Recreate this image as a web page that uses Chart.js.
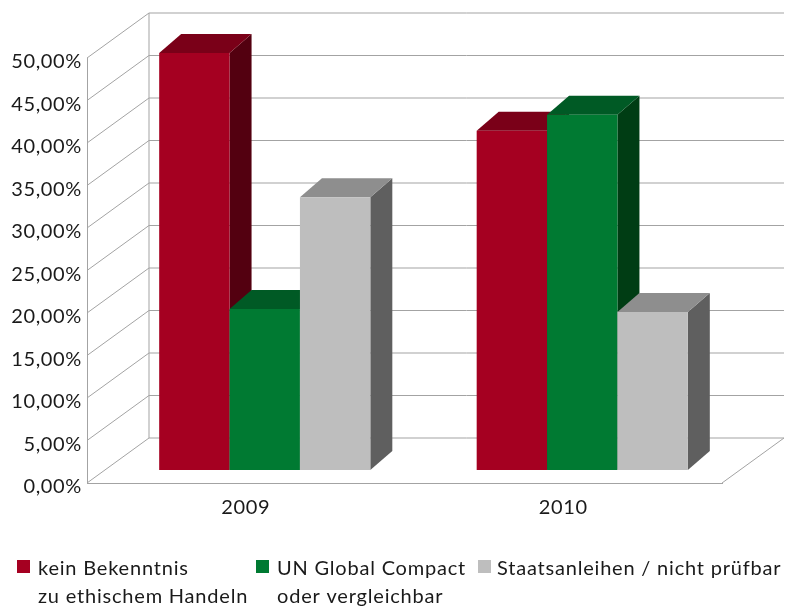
<!DOCTYPE html>
<html lang="de">

<head>
  <meta charset="UTF-8">
  <title>Bekenntnis 2009 / 2010</title>
  <script src="https://cdnjs.cloudflare.com/ajax/libs/Chart.js/4.4.1/chart.umd.min.js"></script>
  <style>
    html, body { margin: 0; padding: 0; background: #fff; }
    .plot-container { width: 791px; height: 608px; position: relative; }
  </style>
</head>

<body>
  <div class="plot-container">
    <canvas id="plot"></canvas>
  </div>

  <script>
    const years = ['2009', '2010'];
    const keinBekenntnis = [49.06, 39.9];
    const unGlobalCompact = [18.95, 41.8];
    const staatsanleihen = [32.1, 18.6];
    const seriesNames = [
      ['kein Bekenntnis', 'zu ethischem Handeln'],
      ['UN Global Compact', 'oder vergleichbar'],
      ['Staatsanleihen / nicht prüfbar']
    ];

    const FONT = { family: 'Lato', size: 20 };
    const TEXT = '#1a1a1a';
    const GRID = '#a3a3a3';

    // fake 3d: offset of the back wall, of the bars on the floor, and bar depth
    const WALL = { x: 62, y: -45 };
    const SHIFT = { x: 19, y: -13 };
    const DEPTH = { x: 22, y: -19 };

    // native legend can't do two line entries here, so it is painted by hand
    const LEGEND = { boxX: [17, 256, 478], textX: [38, 277, 497], boxY: 560, box: 13, baseline: 575, lineStep: 28 };

    function line(ctx, x1, y1, x2, y2) {
      ctx.beginPath();
      ctx.moveTo(x1, y1);
      ctx.lineTo(x2, y2);
      ctx.stroke();
    }

    function poly(ctx, pts, color) {
      ctx.fillStyle = color;
      ctx.beginPath();
      pts.forEach((p, i) => i ? ctx.lineTo(p[0], p[1]) : ctx.moveTo(p[0], p[1]));
      ctx.closePath();
      ctx.fill();
    }

    const bars3d = {
      id: 'bars3d',
      beforeUpdate(chart) {
        // canvas resize wipes this
        chart.ctx.letterSpacing = '0.65px';
      },
      beforeDatasetsDraw(chart) {
        const { ctx, chartArea: a, scales } = chart;
        ctx.save();
        ctx.strokeStyle = GRID;
        ctx.lineWidth = 1;
        // left wall + back wall grid
        scales.y.ticks.forEach((t) => {
          const y = scales.y.getPixelForValue(t.value);
          line(ctx, a.left, y, a.left + WALL.x, y + WALL.y);
          line(ctx, a.left + WALL.x, y + WALL.y, a.right + WALL.x, y + WALL.y);
        });
        line(ctx, a.left + WALL.x, a.top + WALL.y, a.left + WALL.x, a.bottom + WALL.y);
        // floor, right edge
        line(ctx, a.right, a.bottom, a.right + WALL.x, a.bottom + WALL.y);
        ctx.restore();

        // paint left to right so each bar covers the side of the one before it
        ctx.save();
        ctx.translate(SHIFT.x, SHIFT.y);
        chart.data.datasets.forEach((ds, i) => {
          const meta = chart.getDatasetMeta(i);
          meta.data.forEach((bar) => {
            const l = bar.x - bar.width / 2;
            const r = bar.x + bar.width / 2;
            poly(ctx, [[r, bar.y], [r + DEPTH.x, bar.y + DEPTH.y], [r + DEPTH.x, bar.base + DEPTH.y], [r, bar.base]], ds.sideColor);
            poly(ctx, [[l, bar.y], [l + DEPTH.x, bar.y + DEPTH.y], [r + DEPTH.x, bar.y + DEPTH.y], [r, bar.y]], ds.topColor);
          });
          meta.controller.draw();
        });
        ctx.restore();
      },
      beforeDatasetDraw() {
        return false; // already painted above
      },
      afterDraw(chart) {
        const { ctx } = chart;
        ctx.save();
        ctx.letterSpacing = '0.8px';
        ctx.font = FONT.size + 'px ' + FONT.family;
        ctx.textAlign = 'left';
        ctx.textBaseline = 'alphabetic';
        chart.data.datasets.forEach((ds, i) => {
          ctx.fillStyle = ds.backgroundColor;
          ctx.fillRect(LEGEND.boxX[i], LEGEND.boxY, LEGEND.box, LEGEND.box);
          ctx.fillStyle = TEXT;
          ds.label.forEach((txt, n) => ctx.fillText(txt, LEGEND.textX[i], LEGEND.baseline + n * LEGEND.lineStep));
        });
        ctx.restore();
      }
    };

    const config = {
      type: 'bar',
      data: {
        labels: years,
        datasets: [
          { label: seriesNames[0], data: keinBekenntnis, backgroundColor: '#a50021', topColor: '#7a0018', sideColor: '#530010' },
          { label: seriesNames[1], data: unGlobalCompact, backgroundColor: '#007a32', topColor: '#005a25', sideColor: '#003d14' },
          { label: seriesNames[2], data: staatsanleihen, backgroundColor: '#bebebe', topColor: '#8e8e8e', sideColor: '#5f5f5f' }
        ]
      },
      plugins: [bars3d],
      options: {
        responsive: true,
        maintainAspectRatio: false,
        animation: false,
        clip: false,
        categoryPercentage: 0.665,
        barPercentage: 1,
        layout: { padding: { top: 58, right: 69, bottom: 0, left: 0 } },
        scales: {
          x: {
            grid: { display: false, drawTicks: false },
            border: { color: GRID },
            ticks: { color: TEXT, font: FONT, padding: 13, maxRotation: 0 },
            afterFit(s) { s.height = 125; }
          },
          y: {
            min: 0,
            max: 50,
            grid: { display: false, drawTicks: false },
            border: { color: GRID },
            ticks: {
              stepSize: 5,
              color: TEXT,
              font: FONT,
              padding: 5,
              labelOffset: 4,
              callback: (v) => v.toFixed(2).replace('.', ',') + '%'
            },
            afterFit(s) { s.width = 87; }
          }
        },
        plugins: {
          tooltip: { enabled: false },
          legend: { display: false }
        }
      }
    };

    const plot = new Chart(document.getElementById('plot'), config);
  </script>
</body>

</html>
